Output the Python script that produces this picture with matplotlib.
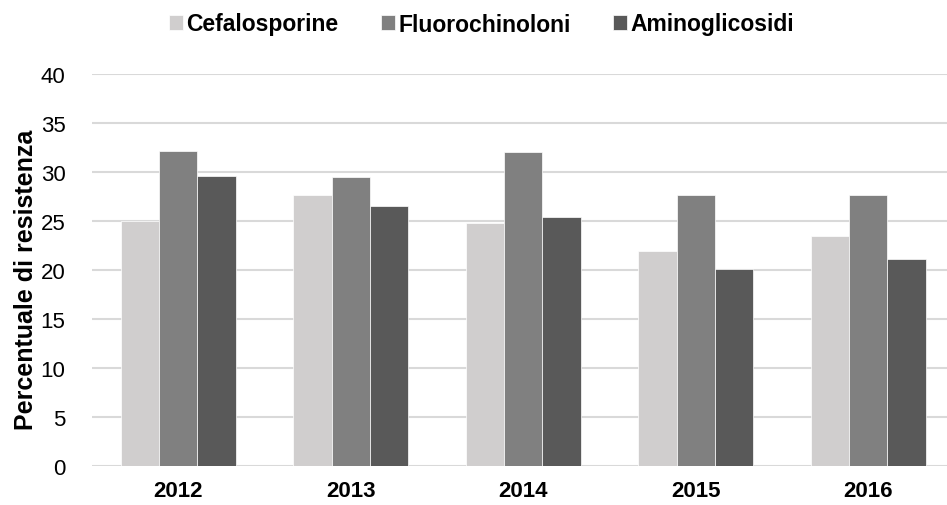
import numpy as np
import matplotlib.pyplot as plt

plt.rcParams.update({
    "font.family": ["Liberation Sans", "DejaVu Sans"],
    "figure.facecolor": "white",
    "axes.facecolor": "white",
})

# dati
anni = ["2012", "2013", "2014", "2015", "2016"]
cefalosporine = [25.0, 27.6, 24.8, 21.9, 23.5]
fluorochinoloni = [32.1, 29.5, 32.0, 27.6, 27.6]
aminoglicosidi = [29.6, 26.5, 25.4, 20.1, 21.1]

serie = [
    ("Cefalosporine", cefalosporine, "#d0cece"),
    ("Fluorochinoloni", fluorochinoloni, "#808080"),
    ("Aminoglicosidi", aminoglicosidi, "#595959"),
]

W, H = 947, 506
fig = plt.figure(figsize=(W / 100, H / 100), dpi=100)
ax = fig.add_axes([92 / W, 38.7 / H, 862.5 / W, 392.6 / H])

x = np.arange(len(anni))
w = 0.222
for i, (nome, valori, col) in enumerate(serie):
    ax.bar(x + (i - 1) * w, valori, width=w, color=col, label=nome,
           edgecolor="white", linewidth=0.5, zorder=3)

ax.set_xlim(-0.5, len(anni) - 0.5)
ax.set_ylim(0, 40)
ax.set_yticks(range(0, 41, 5))
ax.set_xticks(x)
ax.set_xticklabels(anni, fontsize=16, fontweight="bold")
ax.tick_params(axis="y", labelsize=16, length=0, pad=19, labelcolor="#000000")
ax.tick_params(axis="x", length=0, pad=10)
ax.grid(True, axis="y", color="#d9d9d9", linewidth=1.5, zorder=0)
for s in ax.spines.values():
    s.set_visible(False)

# titolo asse y
fig.text(26 / W, 1 - 280 / H, "Percentuale di resistenza", rotation=90,
         ha="center", va="center", fontsize=18, fontweight="bold")

fig.legend(loc="center", bbox_to_anchor=(481.5 / W, 1 - 25 / H), ncol=3,
           frameon=False, prop={"size": 16.5, "weight": "bold"},
           handlelength=0.62, handleheight=0.62, handletextpad=0.15,
           columnspacing=1.85)

fig.savefig("out.png", dpi=100, facecolor="white")
